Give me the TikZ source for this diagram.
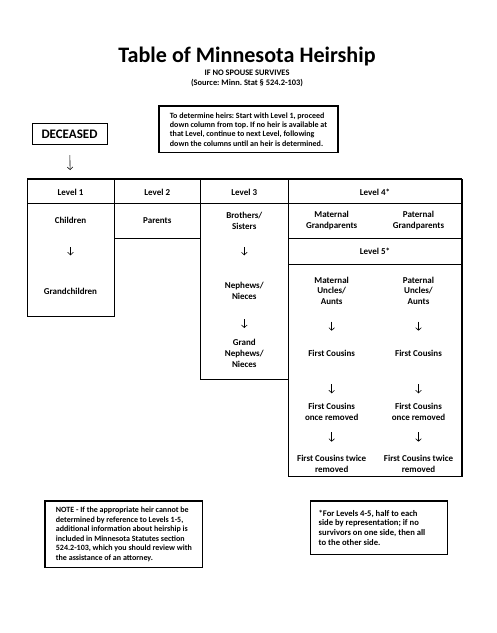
\documentclass[tikz,border=0pt]{standalone}
\usepackage{fontspec}
\setmainfont{Carlito}
\usetikzlibrary{arrows.meta}
\tikzset{
  txt/.style={font=\bfseries\fontsize{9}{10.9}\selectfont, align=center, inner sep=0pt},
  arr/.style={-{Straight Barb[length=2.6pt,width=5.6pt]}, line width=0.6pt},
  frame/.style={line width=1pt},
  heavy/.style={line width=1.8pt},
  notebox/.style={draw, line width=1.3pt, align=flush left, inner xsep=7pt, inner ysep=0pt},
}
\begin{document}
\frenchspacing
\begin{tikzpicture}[x=1pt,y=-1pt]
\useasboundingbox[fill=white] (0,0) rectangle (497,633);

% title block
\node[anchor=base, inner sep=0pt, font=\bfseries\fontsize{22.1}{24}\selectfont] (title) at (247,62.7) {Table of Minnesota Heirship};
\node[anchor=base, inner sep=0pt, font=\bfseries\fontsize{8.4}{9}\selectfont] (sub1) at (247,75.5) {IF NO SPOUSE SURVIVES};
\node[anchor=base, inner sep=0pt, font=\bfseries\fontsize{8.4}{9}\selectfont] (sub2) at (247,85.5) {(Source: Minn. Stat \S\ 524.2-103)};

% instruction box
\node[notebox, minimum width=179pt, minimum height=46.7pt, font=\bfseries\fontsize{8}{9.35}\selectfont] (info) at (248.5,129.3)
  {To determine heirs: Start with Level 1, proceed\\down column from top. If no heir is available at\\that Level, continue to next Level, following\\down the columns until an heir is determined.};

% deceased
\node[draw, line width=1pt, minimum width=75pt, minimum height=21.7pt, inner sep=0pt, font=\bfseries\fontsize{13}{14}\selectfont] (deceased) at (69.5,133.9) {DECEASED};

% table frame
\draw[frame] (27,179) rectangle (114,316.7);
\draw[frame] (114,179) rectangle (200.5,238.3);
\draw[frame] (200.5,179) rectangle (288,379.3);
\draw[frame] (288,179) rectangle (461.7,476.7);
\draw[frame] (27,203.3) -- (461.7,203.3);
\draw[frame] (288,238.3) -- (461.7,238.3);
\draw[frame] (288,264.3) -- (461.7,264.3);
\draw[heavy] (27,179) -- (461.7,179);
\draw[heavy] (461.7,179) -- (461.7,476.7);

% headers
\node[txt] (level1) at (70.5,192.7) {Level 1};
\node[txt] (level2) at (157.3,192.7) {Level 2};
\node[txt] (level3) at (244.3,192.7) {Level 3};
\node[txt] (level4) at (375,192.7) {Level 4*};
\node[txt] (level5) at (375,251.3) {Level 5*};

% level 1
\node[txt] (children) at (70.5,220.7) {Children};
\node[txt] (grandchildren) at (70.5,291) {Grandchildren};
% level 2
\node[txt] (parents) at (157.3,220.7) {Parents};
% level 3
\node[txt] (brothers) at (244.3,221.2) {Brothers/\\Sisters};
\node[txt] (nephews) at (244.3,290.8) {Nephews/\\Nieces};
\node[txt] (grandnephews) at (244.3,353.6) {Grand\\Nephews/\\Nieces};
% level 4
\node[txt] (matgp) at (331.7,220.8) {Maternal\\Grandparents};
\node[txt] (patgp) at (418.5,220.8) {Paternal\\Grandparents};
% level 5
\node[txt] (matua) at (331.7,290.8) {Maternal\\Uncles/\\Aunts};
\node[txt] (patua) at (418.5,290.8) {Paternal\\Uncles/\\Aunts};
\node[txt] (matfc) at (331.7,353.3) {First Cousins};
\node[txt] (patfc) at (418.5,353.3) {First Cousins};
\node[txt] (matfc1) at (331.7,411.5) {First Cousins\\once removed};
\node[txt] (patfc1) at (418.5,411.5) {First Cousins\\once removed};
\node[txt] (matfc2) at (331.7,464) {First Cousins twice\\removed};
\node[txt] (patfc2) at (418.5,464) {First Cousins twice\\removed};

% arrows
\draw[arr, shorten <=21.2pt, shorten >=22.7pt] (deceased.center) -- (level1.center);
\draw[arr, shorten <=26.6pt, shorten >=35.7pt] (children.center) -- (grandchildren.center);
\draw[arr, shorten <=26.1pt, shorten >=35.5pt] (brothers.center) -- (nephews.center);
\draw[arr, shorten <=28.5pt, shorten >=25.6pt] (nephews.center) -- (grandnephews.center);
\draw[arr, shorten <=30.9pt, shorten >=22.6pt] (matua.center) -- (matfc.center);
\draw[arr, shorten <=30.9pt, shorten >=22.6pt] (patua.center) -- (patfc.center);
\draw[arr, shorten <=31pt, shorten >=18.2pt] (matfc.center) -- (matfc1.center);
\draw[arr, shorten <=31pt, shorten >=18.2pt] (patfc.center) -- (patfc1.center);
\draw[arr, shorten <=20.8pt, shorten >=22.3pt] (matfc1.center) -- (matfc2.center);
\draw[arr, shorten <=20.8pt, shorten >=22.3pt] (patfc1.center) -- (patfc2.center);

% notes
\node[notebox, minimum width=157.7pt, minimum height=66.7pt, font=\bfseries\fontsize{8}{9.45}\selectfont] (note) at (123.9,534.4)
  {NOTE - If the appropriate heir cannot be\\determined by reference to Levels 1-5,\\additional information about heirship is\\included in Minnesota Statutes section\\524.2-103, which you should review with\\the assistance of an attorney.};
\node[notebox, inner xsep=8pt, text width=121pt, minimum height=53.3pt, font=\bfseries\fontsize{8.6}{9.8}\selectfont] (starnote) at (379.2,527.7)
  {*For Levels 4-5, half to each\\side by representation; if no\\survivors on one side, then all\\to the other side.};
\end{tikzpicture}
\end{document}
